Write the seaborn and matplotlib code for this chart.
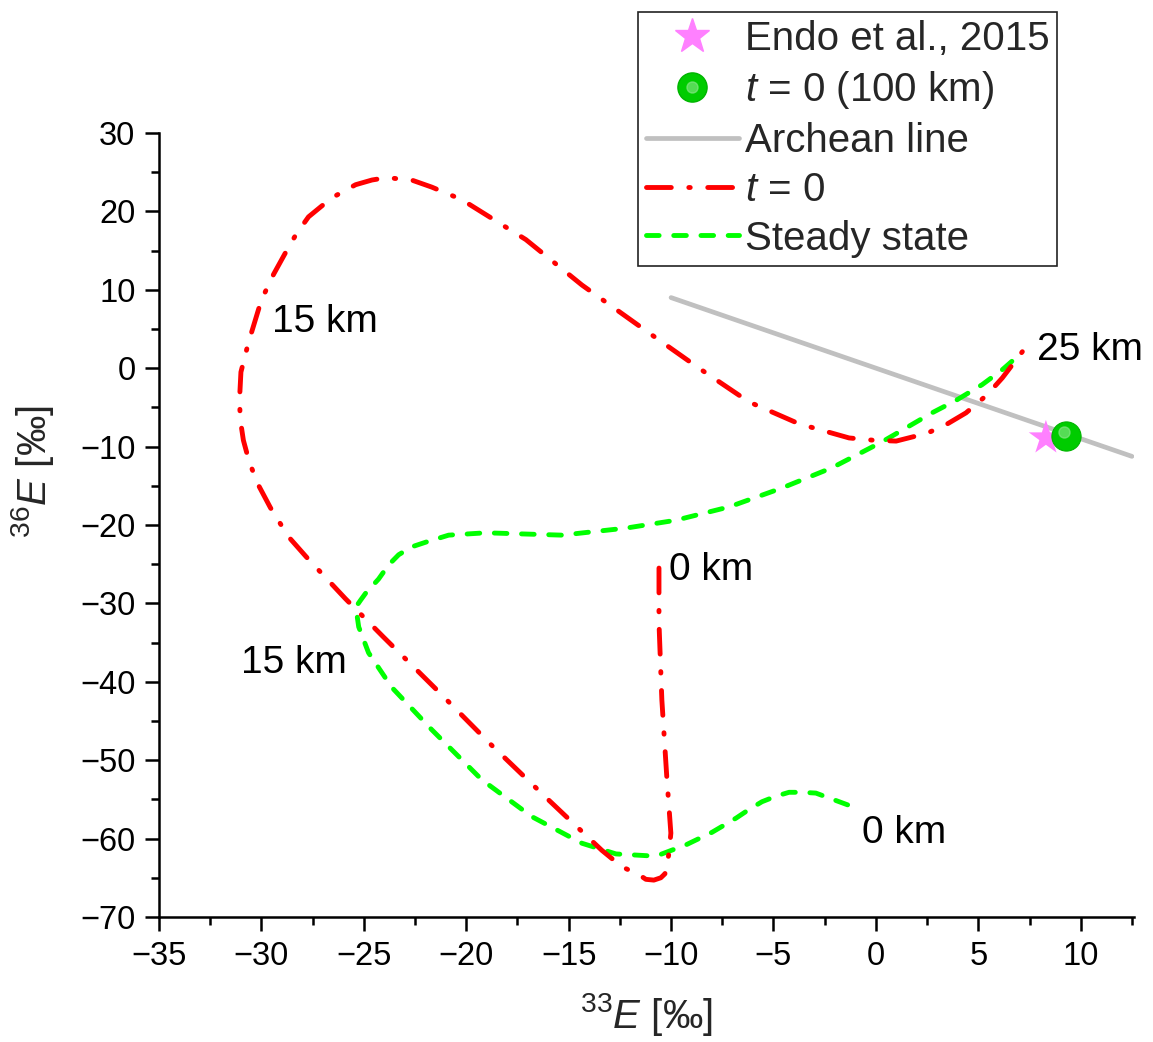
import numpy as np
import pandas as pd
import matplotlib
matplotlib.use("Agg")
import matplotlib.pyplot as plt
import matplotlib.transforms as mtransforms
from matplotlib.lines import Line2D
from matplotlib.legend_handler import HandlerTuple
from matplotlib.ticker import MultipleLocator
import seaborn as sns

# ---------------- data ----------------
# t = 0 curve (from 0 km to 25 km)
t0_x = [-10.59, -10.59, -10.45, -10.21, -10.01, -10.1, -10.2, -10.3, -10.5, -10.84,
        -11.23, -11.57, -12.4, -13.38, -15.97, -18.76, -21.45, -24.04, -25.9, -27.8,
        -28.68, -29.56, -30.15, -30.59, -30.88, -31.03, -31.07, -31.0, -30.64, -30.0,
        -29.4, -28.83, -28.3, -27.7, -26.58, -25.4, -24.6, -23.9, -22.67, -21.69,
        -20.22, -17.09, -14.35, -11.08, -8.64, -6.2, -3.75, -1.31, -0.09, 0.99,
        2.5, 3.43, 4.4, 5.43, 6.17, 7.15]
t0_y = [-25.5, -32.5, -42.3, -52.1, -59.3, -61.8, -63.4, -64.5, -65.0, -65.3,
        -65.2, -64.6, -63.6, -61.5, -55.1, -48.1, -41.0, -34.3, -29.4, -24.1,
        -21.5, -17.8, -14.9, -12.0, -9.2, -6.6, -4.06, -0.5, 3.2, 8.7,
        12.0, 14.7, 17.1, 19.3, 21.7, 23.4, 24.0, 24.3, 24.0, 23.1,
        21.5, 16.4, 10.6, 4.5, 0.0, -4.3, -7.1, -8.9, -9.2, -9.3,
        -8.3, -7.2, -5.7, -3.4, -1.25, 2.1]

# steady-state curve (from 0 km to 25 km)
ss_x = [-1.38, -2.0, -2.93, -3.6, -4.24, -4.88, -5.56, -6.2, -6.83, -8.0,
        -9.27, -10.59, -11.08, -12.69, -14.35, -16.8, -19.24, -21.69, -23.64, -24.77,
        -25.25, -25.35, -25.4, -25.16, -24.91, -24.28, -23.79, -23.3, -22.67, -21.98,
        -20.86, -19.05, -15.32, -12.2, -9.77, -7.17, -4.6, -2.14, 0.3, 2.74,
        3.92, 5.19, 6.17, 7.0]
ss_y = [-55.7, -55.1, -54.2, -54.1, -54.1, -54.6, -55.3, -56.3, -57.4, -59.2,
        -60.8, -62.1, -62.2, -61.96, -60.6, -57.2, -52.5, -46.1, -40.7, -36.3,
        -33.0, -31.2, -30.5, -29.6, -28.7, -26.9, -25.1, -23.8, -22.8, -22.2,
        -21.3, -21.0, -21.3, -20.4, -19.4, -17.7, -15.3, -12.7, -9.4, -5.7,
        -4.1, -2.1, -0.2, 1.7]

# Archean line
arch_x = [-10.0, 12.5]
arch_y = [9.0, -11.25]

# single points
endo_x, endo_y = [8.3], [-8.9]
ball_x, ball_y = [9.3], [-8.6]

# text annotations
ann_text = ["15 km", "15 km", "0 km", "0 km", "25 km"]
ann_x = [-29.5, -31.0, -10.1, -0.68, 7.88]
ann_y = [4.6, -38.9, -27.0, -60.6, 1.05]

x_label = r"$^{33}\mathit{E}$ [‰]"
y_label = r"$^{36}\mathit{E}$ [‰]"
legend_labels = ["Endo et al., 2015", r"$\mathit{t}$ = 0 (100 km)", "Archean line",
                 r"$\mathit{t}$ = 0", "Steady state"]

# ---------------- style ----------------
sns.set_theme(style="ticks")
plt.rcParams["font.family"] = ["Liberation Sans", "DejaVu Sans"]
plt.rcParams["mathtext.fontset"] = "custom"
plt.rcParams["mathtext.rm"] = "Liberation Sans"
plt.rcParams["mathtext.it"] = "Liberation Sans:italic"
plt.rcParams["mathtext.bf"] = "Liberation Sans:bold"

RED = "#ff0000"
GREEN = "#00ff00"
GRAY = "#c0c0c0"
STAR = "#ff80ff"
BALL = "#00cc00"
HL = "#8fe88f"

RED_LS = (0, (5.1, 3.6, 0.3, 3.6))
GREEN_LS = (0, (2.6, 3.0))

fig = plt.figure(figsize=(11.53, 10.42), dpi=100)
ax = fig.add_axes([0.1379, 0.12, 0.8456, 0.7524])

lw = 3.5
t0_df = pd.DataFrame({"x": t0_x, "y": t0_y})
ss_df = pd.DataFrame({"x": ss_x, "y": ss_y})
arch_df = pd.DataFrame({"x": arch_x, "y": arch_y})

sns.lineplot(data=arch_df, x="x", y="y", sort=False, estimator=None, ax=ax,
             color=GRAY, linewidth=3.4, zorder=2)
sns.lineplot(data=ss_df, x="x", y="y", sort=False, estimator=None, ax=ax,
             color=GREEN, linewidth=lw, zorder=3)
ss_line = ax.lines[-1]
ss_line.set_linestyle(GREEN_LS)
ss_line.set_dash_capstyle("round")
ss_line.set_dash_joinstyle("round")
sns.lineplot(data=t0_df, x="x", y="y", sort=False, estimator=None, ax=ax,
             color=RED, linewidth=lw, zorder=4)
t0_line = ax.lines[-1]
t0_line.set_linestyle(RED_LS)
t0_line.set_dash_capstyle("round")
t0_line.set_dash_joinstyle("round")

sns.scatterplot(x=endo_x, y=endo_y, ax=ax, marker="*", s=26**2, color=STAR,
                edgecolor="none", zorder=5)
sns.scatterplot(x=ball_x, y=ball_y, ax=ax, marker="o", s=21**2, color=BALL,
                edgecolor="#00b400", linewidth=0.8, zorder=6)
hl_trans = mtransforms.offset_copy(ax.transData, fig=fig, x=-1.5, y=2.5, units="points")
ax.plot(ball_x, ball_y, marker="o", markersize=8, color=HL, alpha=0.6,
        linestyle="none", transform=hl_trans, zorder=7)

for t, x, y in zip(ann_text, ann_x, ann_y):
    ax.text(x, y, t, fontsize=28, ha="left", va="baseline", color="black", zorder=8)

# axes
ax.set_xlim(-35, 12.6)
ax.set_ylim(-70, 30)
ax.xaxis.set_major_locator(MultipleLocator(5))
ax.xaxis.set_minor_locator(MultipleLocator(2.5))
ax.yaxis.set_major_locator(MultipleLocator(10))
ax.yaxis.set_minor_locator(MultipleLocator(5))
ax.tick_params(axis="both", which="major", direction="out", length=10, width=1.8,
               labelsize=23.5, pad=7, color="black", labelcolor="black")
ax.tick_params(axis="both", which="minor", direction="out", length=5.5, width=1.8,
               color="black")
for side in ["top", "right"]:
    ax.spines[side].set_visible(False)
for side in ["left", "bottom"]:
    ax.spines[side].set_linewidth(1.8)
    ax.spines[side].set_color("black")
ax.grid(False)
ax.set_facecolor("white")

ax.set_xlabel(x_label, fontsize=29, labelpad=14)
ax.set_ylabel(y_label, fontsize=29)
ax.yaxis.set_label_coords(-0.106, 0.568)

# legend
h_star = Line2D([], [], marker="*", markersize=26, color=STAR, linestyle="none")
h_ball = Line2D([], [], marker="o", markersize=21, color=BALL, markeredgecolor="#00b400",
                linestyle="none")
h_hl = Line2D([], [], marker="o", markersize=8, color=HL, alpha=0.6, linestyle="none")
h_arch = Line2D([], [], color=GRAY, linewidth=3.4)
h_t0 = Line2D([], [], color=RED, linewidth=lw, linestyle=RED_LS, dash_capstyle="round")
h_ss = Line2D([], [], color=GREEN, linewidth=lw, linestyle=GREEN_LS, dash_capstyle="round")
leg = ax.legend([h_star, (h_ball, h_hl), h_arch, h_t0, h_ss], legend_labels,
                handler_map={tuple: HandlerTuple(ndivide=1)},
                loc="upper left", bbox_to_anchor=(0.5533, 0.9885),
                bbox_transform=fig.transFigure, fontsize=29, frameon=True,
                fancybox=False, shadow=False, framealpha=1, edgecolor="#222222",
                handlelength=2.3, handletextpad=0.15, borderpad=0.2,
                labelspacing=0.27, borderaxespad=0)
leg.get_frame().set_linewidth(1.2)
leg.set_zorder(10)

fig.savefig("out.png", dpi=100, facecolor="white")
